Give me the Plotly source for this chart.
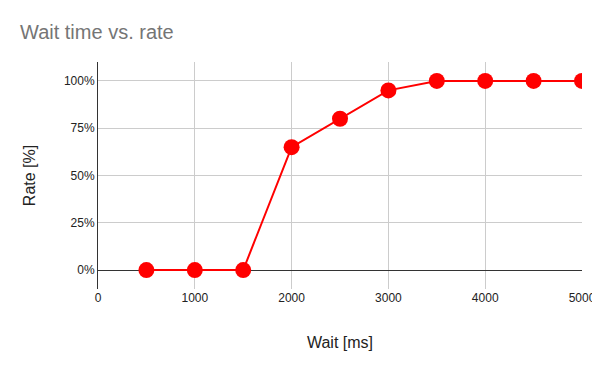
import plotly.graph_objects as go

wait_ms = [500, 1000, 1500, 2000, 2500, 3000, 3500, 4000, 4500, 5000]
rate = [0.0, 0.0, 0.0, 0.65, 0.80, 0.95, 1.0, 1.0, 1.0, 1.0]
y_ticks = [0, 0.25, 0.5, 0.75, 1.0]
y_tick_labels = ["0%", "25%", "50%", "75%", "100%"]
x_ticks = [0, 1000, 2000, 3000, 4000, 5000]

fig = go.Figure()
fig.add_trace(go.Scatter(
    x=wait_ms, y=rate, mode="lines+markers",
    line=dict(color="#ff0000", width=2),
    marker=dict(color="#ff0000", size=16),
    showlegend=False,
))

fig.update_layout(
    width=600, height=355,
    margin=dict(l=90, r=26, t=54, b=74),
    paper_bgcolor="white", plot_bgcolor="white",
    font=dict(family="Arial, Liberation Sans, sans-serif", size=12, color="#222222"),
    title=dict(text="Wait time vs. rate", x=0.02, xanchor="left", y=0.9324, yanchor="middle",
               font=dict(size=20, color="#757575")),
    xaxis=dict(
        range=[0, 5000], tickvals=x_ticks, ticktext=[str(v) for v in x_ticks],
        showgrid=True, gridcolor="#cccccc", gridwidth=1,
        zeroline=False, showline=False, ticks="",
        automargin=False, ticklabeloverflow="allow",
        title=dict(text="Wait [ms]", font=dict(size=16, color="#222222"), standoff=32),
    ),
    yaxis=dict(
        range=[-0.1, 1.1], tickvals=y_ticks, ticktext=y_tick_labels,
        showgrid=True, gridcolor="#cccccc", gridwidth=1,
        zeroline=True, zerolinecolor="#333333", zerolinewidth=1,
        showline=True, linecolor="#333333", linewidth=1, ticks="",
        automargin=False, ticklabeloverflow="allow",
        title=dict(text="Rate [%]", font=dict(size=16, color="#222222"), standoff=24),
    ),
)

fig.write_html("out.html")
